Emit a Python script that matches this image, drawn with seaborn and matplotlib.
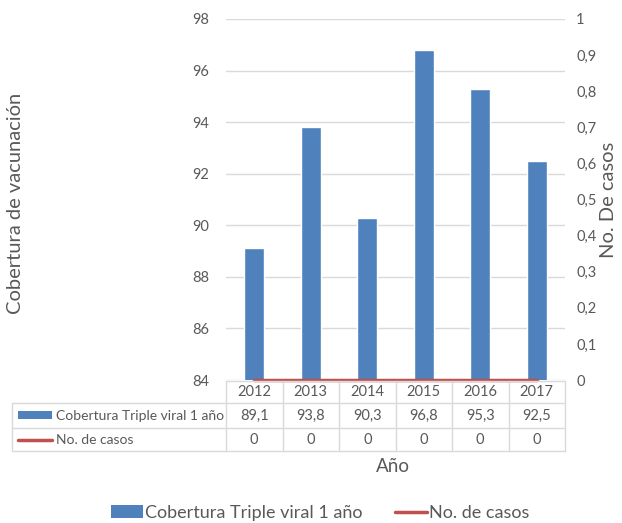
import numpy as np
import pandas as pd
import matplotlib.pyplot as plt
import matplotlib.transforms as mtransforms
from matplotlib.lines import Line2D
from matplotlib.patches import Patch
import seaborn as sns

# Data
years = ['2012', '2013', '2014', '2015', '2016', '2017']
cobertura = [89.1, 93.8, 90.3, 96.8, 95.3, 92.5]
casos = [0, 0, 0, 0, 0, 0]
serie_barras = 'Cobertura Triple viral 1 año'
serie_linea = 'No. de casos'
left_ticks = [84, 86, 88, 90, 92, 94, 96, 98]
right_ticks = [0, 0.1, 0.2, 0.3, 0.4, 0.5, 0.6, 0.7, 0.8, 0.9, 1]

BLUE = '#4F81BD'
RED = '#C0504D'
TXT = '#595959'
GRID = '#D9D9D9'
FONT = ['Lato', 'DejaVu Sans']

W, H = 622, 523

sns.set_theme(style='white')
plt.rcParams['font.family'] = FONT
plt.rcParams['text.color'] = TXT


def fx(x):
    return x / W


def fy(y):
    return 1 - y / H


df = pd.DataFrame({'year': years, 'cobertura': cobertura, 'casos': casos})

fig = plt.figure(figsize=(W / 100, H / 100), dpi=100)
fig.patch.set_facecolor('white')
ax = fig.add_axes([fx(226), fy(380), fx(565 - 226), (380 - 19) / H])

sns.barplot(data=df, x='year', y='cobertura', color=BLUE, saturation=1,
            width=0.35, ax=ax, zorder=3)
ax.set_ylim(84, 98)
ax.set_yticks(left_ticks)
ax.set_yticklabels([str(t) for t in left_ticks], fontsize=10.5, color=TXT)
ax.set_xlim(-0.5, len(years) - 0.5)
ax.set_xticks([])
ax.set_xlabel('')
ax.set_ylabel('')
ax.yaxis.grid(True, color=GRID, linewidth=1)
ax.set_axisbelow(True)
ax.tick_params(axis='y', length=0, pad=12)
for s in ax.spines.values():
    s.set_visible(False)

ax2 = ax.twinx()
sns.lineplot(data=df, x='year', y='casos', color=RED, linewidth=2.5, ax=ax2,
             zorder=4, clip_on=False)
ax2.set_ylim(0, 1)
ax2.set_yticks(right_ticks)
ax2.set_yticklabels([('%g' % t).replace('.', ',') for t in right_ticks],
                    fontsize=10.5, color=TXT)
ax2.tick_params(axis='y', length=0, pad=8)
ax2.set_ylabel('')
ax2.set_xlabel('')
for s in ax2.spines.values():
    s.set_visible(False)
ax.set_xlim(-0.5, len(years) - 0.5)

# Data table below the plot
blend = mtransforms.blended_transform_factory(ax.transData, fig.transFigure)
row_lines = [381, 403, 428, 451]
line_kw = dict(color=GRID, linewidth=1, clip_on=False)

fig.add_artist(Line2D([fx(226), fx(565)], [fy(381), fy(381)], transform=fig.transFigure, **line_kw))
for yl in row_lines[1:]:
    fig.add_artist(Line2D([fx(12), fx(565)], [fy(yl), fy(yl)], transform=fig.transFigure, **line_kw))
fig.add_artist(Line2D([fx(12), fx(12)], [fy(403), fy(451)], transform=fig.transFigure, **line_kw))
for i in range(len(years) + 1):
    xb = i - 0.5
    fig.add_artist(Line2D([xb, xb], [fy(381), fy(451)], transform=blend, **line_kw))

for i, yr in enumerate(years):
    fig.text(i, fy(392), yr, transform=blend, ha='center', va='center', fontsize=10.5, color=TXT)
    fig.text(i, fy(415.5), ('%g' % cobertura[i]).replace('.', ','), transform=blend,
             ha='center', va='center', fontsize=10.5, color=TXT)
    fig.text(i, fy(439.5), '%g' % casos[i], transform=blend,
             ha='center', va='center', fontsize=10.5, color=TXT)

# Row headers with legend keys
fig.add_artist(plt.Rectangle((fx(18), fy(419)), fx(34), 8 / H, transform=fig.transFigure,
                             facecolor=BLUE, edgecolor='none'))
fig.text(fx(56), fy(415.5), serie_barras, ha='left', va='center', fontsize=10, color=TXT)
fig.add_artist(Line2D([fx(18), fx(52)], [fy(439.5), fy(439.5)], transform=fig.transFigure,
                      color=RED, linewidth=2.5))
fig.text(fx(56), fy(439.5), serie_linea, ha='left', va='center', fontsize=10, color=TXT)

# Axis titles
fig.text(fx(16), fy(203), 'Cobertura de vacunación', rotation=90, ha='center', va='center',
         fontsize=14.5, color=TXT)
fig.text(fx(609), fy(200), 'No. De casos', rotation=90, ha='center', va='center',
         fontsize=14.5, color=TXT)
fig.text(fx(393), fy(466), 'Año', ha='center', va='center', fontsize=13.5, color=TXT)

# Legend
handles = [Patch(facecolor=BLUE, edgecolor='none'),
           Line2D([0], [0], color=RED, linewidth=2.5)]
fig.legend(handles, [serie_barras, serie_linea], loc='center', ncol=2,
           bbox_to_anchor=(fx(320), fy(513)), frameon=False, fontsize=13,
           handlelength=1.8, handletextpad=0.1, columnspacing=1.8, labelcolor=TXT)

fig.savefig('out.png', dpi=100, facecolor='white')
